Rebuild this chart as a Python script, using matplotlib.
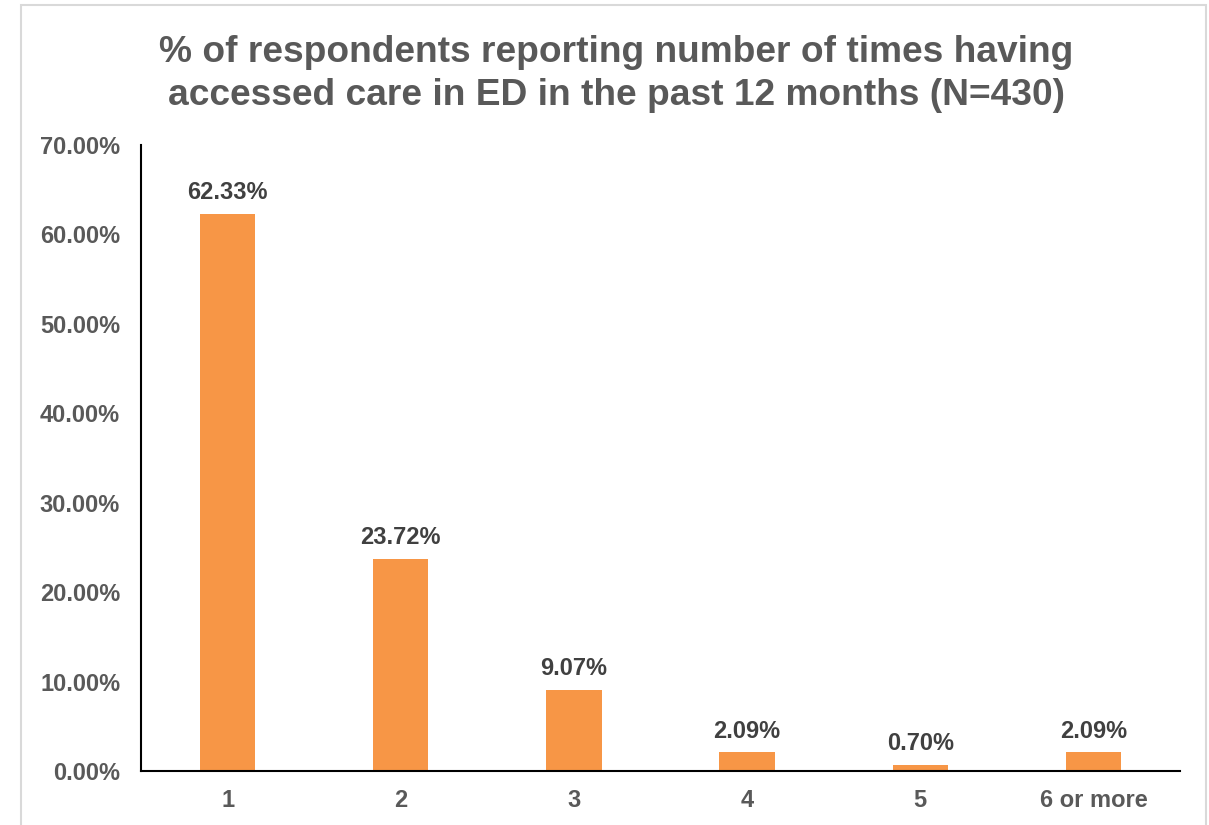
import matplotlib
matplotlib.use("Agg")
import matplotlib.pyplot as plt
from matplotlib.patches import Rectangle

categories = ["1", "2", "3", "4", "5", "6 or more"]
values = [62.33, 23.72, 9.07, 2.09, 0.70, 2.09]
yticks = [0, 10, 20, 30, 40, 50, 60, 70]
title = "% of respondents reporting number of times having\naccessed care in ED in the past 12 months (N=430)"

plt.rcParams['font.family'] = ['Liberation Sans', 'DejaVu Sans']
fig = plt.figure(figsize=(12.09, 8.25), dpi=100)
W, H = 1209, 825
ax = fig.add_axes([141 / W, 1 - 771 / H, (1180 - 141) / W, (771 - 145) / H])

x = range(len(categories))
ax.bar(x, values, width=0.32, color="#F79646")
ax.set_xlim(-0.5, len(categories) - 0.5)
ax.set_ylim(0, 70)
ax.set_yticks(yticks)
ax.set_yticklabels([f"{v:.2f}%" for v in yticks], fontsize=17, fontweight="bold", color="#595959")
ax.set_xticks(list(x))
ax.set_xticklabels(categories, fontsize=17, fontweight="bold", color="#595959")
ax.tick_params(axis="both", length=0)
ax.tick_params(axis="y", pad=15)
ax.tick_params(axis="x", pad=13)
for s in ["top", "right"]:
    ax.spines[s].set_visible(False)
ax.spines["left"].set_linewidth(1.5)
ax.spines["bottom"].set_linewidth(1.5)

for xi, v in zip(x, values):
    ax.annotate(f"{v:.2f}%", (xi, v), xytext=(0, 7), textcoords="offset points",
                ha="center", va="bottom", fontsize=17, fontweight="bold", color="#404040")

fig.text(616 / W, 1 - 74 / H, title, ha="center", va="center", fontsize=26.7,
         fontweight="bold", color="#595959", linespacing=1.32)

fig.patches.append(Rectangle((21 / W, -0.01), (1206 - 21) / W, 1 - 5 / H + 0.01,
                             transform=fig.transFigure, fill=False, edgecolor="#D9D9D9", lw=1.5))
fig.savefig("out.png", dpi=100)
